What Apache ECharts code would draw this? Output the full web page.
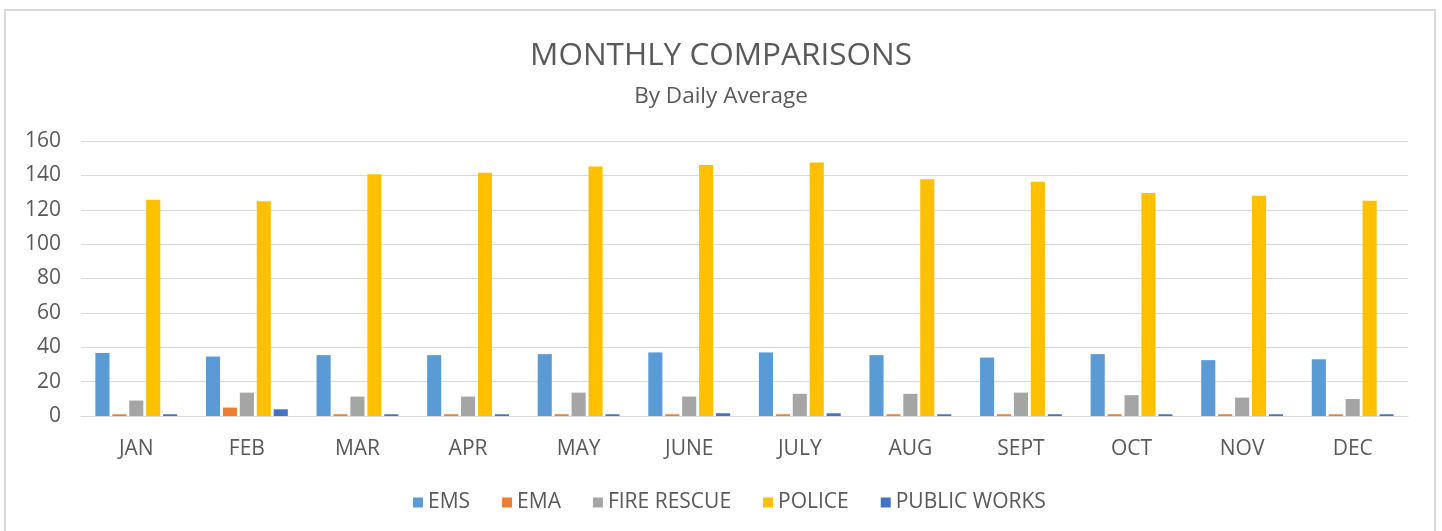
<!DOCTYPE html>
<html>
<head>
<meta charset="utf-8">
<title>Monthly Comparisons</title>
<script src="https://cdn.jsdelivr.net/npm/echarts@6/dist/echarts.min.js"></script>
<style>
  html, body { margin: 0; padding: 0; background: #fff; }
  #chart { width: 1442px; height: 531px; }
</style>
</head>
<body>
<div id="chart"></div>
<script>
// 月份
var months = ['JAN', 'FEB', 'MAR', 'APR', 'MAY', 'JUNE', 'JULY', 'AUG', 'SEPT', 'OCT', 'NOV', 'DEC'];

// 各部门日均数
var ems         = [36.7, 34.6, 35.4, 35.4, 36, 37, 37, 35.4, 34, 36, 32.5, 33];
var ema         = [1, 4.9, 1, 1, 1, 1, 1, 1, 1, 1, 1, 1];
var fireRescue  = [9, 13.6, 11.3, 11.3, 13.6, 11.3, 12.9, 12.9, 13.6, 12.1, 10.7, 9.9];
var police      = [125.8, 125, 140.7, 141.5, 145.2, 146, 147.5, 137.8, 136.3, 129.7, 128.1, 125.2];
var publicWorks = [1, 3.9, 1, 1, 1, 1.6, 1.6, 1, 1, 1, 1, 1];

var seriesNames = ['EMS', 'EMA', 'FIRE RESCUE', 'POLICE', 'PUBLIC WORKS'];
var seriesData = [ems, ema, fireRescue, police, publicWorks];
var colors = ['#5B9BD5', '#ED7D31', '#A5A5A5', '#FFC000', '#4472C4'];

var font = '"Open Sans", sans-serif';
var textColor = '#595959';

var option = {
    animation: false,
    color: colors,
    title: {
        text: 'MONTHLY COMPARISONS',
        subtext: 'By Daily Average',
        left: 'center',
        top: 35,
        itemGap: 13,
        textStyle: { fontFamily: font, fontSize: 31.5, fontWeight: 'normal', color: textColor },
        subtextStyle: { fontFamily: font, fontSize: 22.5, color: textColor }
    },
    legend: {
        bottom: 13,
        left: 408,
        itemWidth: 10,
        itemHeight: 10,
        itemGap: 32,
        icon: 'rect',
        textStyle: { fontFamily: font, fontSize: 21, color: textColor },
        data: seriesNames
    },
    grid: { left: 81, right: 34, top: 141, bottom: 115 },
    xAxis: {
        type: 'category',
        data: months,
        axisTick: { show: false },
        axisLine: { lineStyle: { color: '#D9D9D9', width: 1 } },
        axisLabel: { fontFamily: font, fontSize: 21, color: textColor, margin: 23 }
    },
    yAxis: {
        type: 'value',
        min: 0,
        max: 160,
        interval: 20,
        axisLine: { show: false },
        axisTick: { show: false },
        splitLine: { lineStyle: { color: '#D9D9D9', width: 1 } },
        axisLabel: { fontFamily: font, fontSize: 21, color: textColor, margin: 20 }
    },
    graphic: [{
        type: 'rect',
        shape: { x: 5, y: 10, width: 1430, height: 540 },
        style: { fill: 'none', stroke: '#D9D9D9', lineWidth: 2 },
        silent: true
    }],
    series: seriesNames.map(function (name, i) {
        return {
            name: name,
            type: 'bar',
            data: seriesData[i],
            barCategoryGap: '26%',
            barGap: '20%',
            itemStyle: { color: colors[i] }
        };
    })
};

var myChart = echarts.init(document.getElementById('chart'));
myChart.setOption(option);
</script>
</body>
</html>
